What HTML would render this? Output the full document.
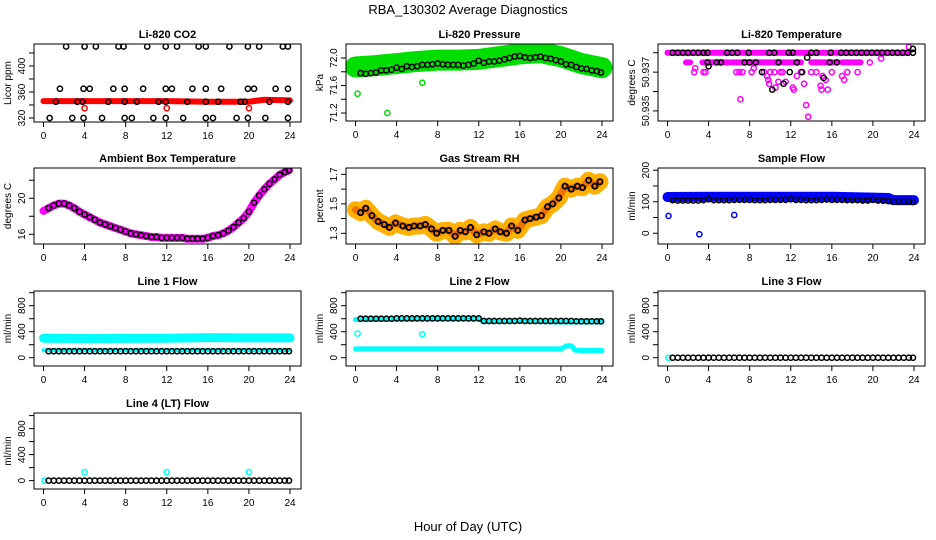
<!DOCTYPE html>
<html><head><meta charset="utf-8">
<style>
html,body{margin:0;padding:0;background:#fff;}
svg{display:block;font-family:"Liberation Sans",Arial,sans-serif;}
</style></head>
<body>
<svg id="chart" width="936" height="540" viewBox="0 0 936 540" xmlns="http://www.w3.org/2000/svg">
<text x="468" y="14" text-anchor="middle" font-size="13">RBA_130302  Average Diagnostics</text>
<text x="468" y="531" text-anchor="middle" font-size="13">Hour of Day (UTC)</text>
</svg>
<script>
// ---------- data ----------
const xTicks = [0,4,8,12,16,20,24];
const halfHours = [0.5,1,1.5,2,2.5,3,3.5,4,4.5,5,5.5,6,6.5,7,7.5,8,8.5,9,9.5,10,10.5,11,11.5,12,12.5,13,13.5,14,14.5,15,15.5,16,16.5,17,17.5,18,18.5,19,19.5,20,20.5,21,21.5,22,22.5,23,23.5,23.9];

// CO2
const co2Levels = [430,365,345,320];
const co2LevelHours = [
  [2.2,4,5.1,7.3,7.8,10.1,11.9,13,15.1,15.8,18.1,19.9,21,23.3,23.8],
  [1.6,3.9,4.5,6.8,7.9,9.7,11.9,12.5,14.5,15.8,17.3,19.9,20.5,22.6,23.8],
  [1.2,3.3,3.8,6.3,7.9,9.1,11.2,11.9,14,15.8,17,19.2,19.6,22,23.8],
  [0.6,2.8,3.9,5.7,7.9,8.6,10.7,11.9,13.6,15.8,16.5,18.8,19.9,21.6,23.8]];
const co2RedHours = [0,4,8,12,16,20,21.5,24];
const co2RedVals = [346,346,346,346,345,345,348,347];
const co2RedOutH = [4,12,20];
const co2RedOutV = [335,335,335];

// Pressure
const presBlack = [71.78,71.77,71.78,71.79,71.82,71.82,71.83,71.86,71.84,71.88,71.87,71.88,71.9,71.9,71.91,71.92,71.91,71.9,71.9,71.9,71.89,71.9,71.92,71.96,71.93,71.95,71.95,71.96,71.98,72.0,72.02,72.03,72.01,72.0,72.01,72.02,72.0,71.99,71.97,71.95,71.91,71.9,71.87,71.85,71.84,71.82,71.81,71.79];
const presBandHours = [0,2,4,6,8,10,12,14,16,18,20,22,24];
const presBandVals = [71.87,71.89,71.92,71.95,71.97,71.97,71.98,72.02,72.06,72.08,72.02,71.92,71.86];
const presOutH = [0.2,3.1,6.5];
const presOutV = [71.48,71.2,71.64];

// Temperature
const tempMagRowStart = [1.8,3.4,6.3,14,17];
const tempMagRowEnd = [2.2,6,13,16.5,18.8];
const tempMagH = [2.7,2.6,3.5,3.7,6.7,7,7.3,7.1,8.2,8.4,9.4,9.7,9.8,10,9.9,10.4,10.8,11,10.5,11.2,11.5,12.2,12.3,12.6,13,13.3,13.5,13.7,14,14.5,14.9,15,15.1,15.4,15.6,16,17,17.2,17.5,18.5,19.7,20.8,23.5];
const tempMagV = [50.9372,50.937,50.937,50.937,50.937,50.937,50.937,50.9356,50.937,50.9372,50.937,50.9368,50.9366,50.937,50.9364,50.937,50.9365,50.937,50.9362,50.937,50.9365,50.9362,50.9361,50.9368,50.937,50.9364,50.9353,50.9347,50.937,50.937,50.9363,50.9361,50.9368,50.9366,50.9361,50.937,50.9368,50.9366,50.937,50.937,50.9375,50.9377,50.9383];
const tempBlkH = [0.5,1,1.5,2,2.5,3,3.5,3.9,5.8,6.3,6.8,7.9,9.9,10.4,11.8,12.2,14,14.5,15.9,16.9,17.4,17.9,18.4,18.9,19.4,19.9,20.4,20.9,21.4,21.9,22.4,22.9,23.4,23.9,3.9,4.8,5.2,7.5,8,8.6,10.8,12.6,15.8,16.5,4,9.2,11.9,13.1,13.6,15.2,11.3,10.2,23.9];
const tempBlkV = [50.938,50.938,50.938,50.938,50.938,50.938,50.938,50.938,50.938,50.938,50.938,50.938,50.938,50.938,50.938,50.938,50.938,50.938,50.938,50.938,50.938,50.938,50.938,50.938,50.938,50.938,50.938,50.938,50.938,50.938,50.938,50.938,50.938,50.938,50.9375,50.9375,50.9375,50.9375,50.9375,50.9375,50.9375,50.9375,50.9375,50.9375,50.9373,50.937,50.937,50.937,50.93775,50.9367,50.9364,50.9361,50.9382];

// Ambient box temperature
const ambVals = [18.9,19.2,19.4,19.4,19.2,18.9,18.5,18.2,17.9,17.6,17.3,17.1,16.9,16.7,16.5,16.3,16.1,16.0,15.9,15.8,15.7,15.7,15.6,15.6,15.6,15.6,15.6,15.5,15.5,15.5,15.5,15.6,15.8,15.9,16.1,16.4,16.8,17.3,17.8,18.5,19.5,20.3,21.0,21.6,22.1,22.6,22.9,23.1];

// Gas stream RH
const rhHours = [0.5,1,1.6,2.2,2.8,3.3,3.9,4.6,5.2,5.7,6.3,6.8,7.4,7.9,8.5,9.1,9.7,10.2,10.7,11.2,11.8,12.5,13,13.6,14.1,14.7,15.2,15.8,16.5,17,17.6,18.1,18.7,19.2,19.8,20.4,21,21.6,22.1,22.7,23.3,23.8];
const rhVals = [1.44,1.47,1.42,1.38,1.36,1.34,1.37,1.35,1.34,1.35,1.35,1.36,1.33,1.30,1.32,1.32,1.28,1.32,1.31,1.34,1.29,1.31,1.30,1.33,1.31,1.30,1.35,1.32,1.39,1.40,1.41,1.42,1.48,1.50,1.54,1.62,1.60,1.62,1.61,1.66,1.62,1.65];

// Sample flow
const sfBlack = [105,104,104,104,104,104,105,108,105,105,105,105,106,106,106,106,105,105,105,106,106,106,106,108,106,106,105,105,105,106,107,106,106,106,105,105,105,104,104,106,104,103,102,100,100,100,100,99];
const sfBandHours = [0,4,8,12,16,20,21.5,22,24];
const sfBandVals = [115,116,116,116,116,113,112,105,105];
const sfOutH = [0.1,3.1,6.5];
const sfOutV = [55,-3,58];

// Line flows
const l1Black = [100,100,100,100,100,100,100,100,100,100,100,100,100,100,100,100,100,100,100,100,100,100,100,100,100,100,100,100,100,100,100,100,100,100,100,100,100,100,100,100,100,100,100,100,100,100,100,100];
const l1UpperHours = [0,4,8,12,16,20,24];
const l1UpperVals = [300,295,298,300,308,305,305];
const l1LowerHours = [0,24];
const l1LowerVals = [115,115];
const l2Black = [600,600,600,600,600,600,600,605,605,605,605,605,605,605,605,605,605,605,605,605,605,605,605,605,565,565,565,565,565,565,565,570,565,565,565,565,565,565,565,565,565,565,560,560,560,560,560,560];
const l2UpperHours = [0,4,8,12,12.5,16,20,24];
const l2UpperVals = [585,590,595,595,555,560,550,550];
const l2LowerHours = [0,4,8,12,16,20,20.5,21,21.4,22,24];
const l2LowerVals = [135,135,135,135,135,135,180,185,115,110,110];
const l2OutH = [0.2,6.5];
const l2OutV = [370,360];
const l3Black = [0,0,0,0,0,0,0,0,0,0,0,0,0,0,0,0,0,0,0,0,0,0,0,0,0,0,0,0,0,0,0,0,0,0,0,0,0,0,0,0,0,0,0,0,0,0,0,0];
const l3CyanH = [0.1];
const l3CyanV = [0];
const l4Black = [0,0,0,0,0,0,0,0,0,0,0,0,0,0,0,0,0,0,0,0,0,0,0,0,0,0,0,0,0,0,0,0,0,0,0,0,0,0,0,0,0,0,0,0,0,0,0,0];
const l4CyanH = [0.1,4,12,20];
const l4CyanV = [0,130,130,130];

// ---------- drawing ----------
const NS = "http://www.w3.org/2000/svg";
const svg = document.getElementById('chart');
function el(tag, parent){ const e=document.createElementNS(NS,tag); parent.appendChild(e); return e; }

function panel(o){
  const g = el('g', svg);
  
  
  const bx=o.bx, by=o.by, bw=267, bh=o.bh;
  const sx = h => bx + 9.5 + h*(bw-20.5)/24;
  const sy = v => by + bh - (v-o.lo)/(o.hi-o.lo)*bh;
  const clip = el('clipPath', g);
  clip.setAttribute('id', 'clip-'+o.name);
  const cr = el('rect', clip);
  cr.setAttribute('x', bx); cr.setAttribute('y', by); cr.setAttribute('width', bw); cr.setAttribute('height', bh);
  const plot = el('g', g);
  plot.setAttribute('clip-path', 'url(#clip-'+o.name+')');
  
  
  o.draw({plot, sx, sy});
  const r = el('rect', g);
  
  
  r.setAttribute('x', bx); r.setAttribute('y', by); r.setAttribute('width', bw); r.setAttribute('height', bh);
  r.setAttribute('fill','none'); r.setAttribute('stroke','#000'); r.setAttribute('stroke-width','1');
  const t = el('text', g);
  
  
  t.setAttribute('x', bx+bw/2); t.setAttribute('y', by-6); t.setAttribute('text-anchor','middle');
  t.setAttribute('font-size','11'); t.setAttribute('font-weight','bold');
  t.textContent = o.title;
  xTicks.forEach(h=>{
    const l = el('line', g);
    
    
    l.setAttribute('x1', sx(h)); l.setAttribute('x2', sx(h)); l.setAttribute('y1', by+bh); l.setAttribute('y2', by+bh+5);
    l.setAttribute('stroke','#000');
    if(o.xlabels){
      const tx = el('text', g);
      
      
      tx.setAttribute('x', sx(h)); tx.setAttribute('y', by+bh+17); tx.setAttribute('text-anchor','middle'); tx.setAttribute('font-size','10');
      tx.textContent = h;
    }
  });
  o.yticks.forEach((v,i)=>{
    const y = sy(v);
    const l = el('line', g);
    
    
    l.setAttribute('x1', bx-5); l.setAttribute('x2', bx); l.setAttribute('y1', y); l.setAttribute('y2', y);
    l.setAttribute('stroke','#000');
    const lab = o.ylabels[i];
    if(lab!==''){
      const tx = el('text', g);
      
      
      tx.setAttribute('transform', 'translate('+(bx-9)+','+y+') rotate(-90)');
      tx.setAttribute('text-anchor','middle'); tx.setAttribute('font-size','10');
      tx.textContent = lab;
    }
  });
  const yt = el('text', g);
  
  
  yt.setAttribute('transform', 'translate('+(bx-23)+','+(by+bh/2)+') rotate(-90)');
  yt.setAttribute('text-anchor','middle'); yt.setAttribute('font-size','10');
  yt.textContent = o.ytitle;
}

function pts(ctx, hs, vs, color, name, sw){
  hs.forEach((h,i)=>{
    const c = el('circle', ctx.plot);
    
    
    c.setAttribute('cx', ctx.sx(h)); c.setAttribute('cy', ctx.sy(vs[i])); c.setAttribute('r', 2.6);
    c.setAttribute('fill','none'); c.setAttribute('stroke', color); c.setAttribute('stroke-width', sw||1.5);
  });
}
function band(ctx, hs, vs, color, width, name){
  const p = el('polyline', ctx.plot);
  
  
  p.setAttribute('points', hs.map((h,i)=>ctx.sx(h)+','+ctx.sy(vs[i])).join(' '));
  p.setAttribute('fill','none'); p.setAttribute('stroke', color); p.setAttribute('stroke-width', width);
  p.setAttribute('stroke-linecap','round'); p.setAttribute('stroke-linejoin','round');
}

const C1=34, C2=346, C3=658;
const R1=44, R2=168, R3=291, R4=413;

panel({name:'co2', title:'Li-820 CO2', bx:C1, by:R1, bh:78, lo:313.8, hi:433.8, ytitle:'Licor ppm', xlabels:true,
  yticks:[320,340,360,380,400,420], ylabels:['320','','360','','400',''],
  draw:ctx=>{
    band(ctx, co2RedHours, co2RedVals, '#ff0000', 6, 'co2-red-band');
    pts(ctx, co2RedOutH, co2RedOutV, '#ff0000', 'co2-red-point');
    co2Levels.forEach((lv,k)=>{ pts(ctx, co2LevelHours[k], co2LevelHours[k].map(()=>lv), '#000', 'co2-black-point'); });
  }});

panel({name:'pressure', title:'Li-820 Pressure', bx:C2, by:R1, bh:77, lo:71.084, hi:72.204, ytitle:'kPa', xlabels:true,
  yticks:[71.2,71.4,71.6,71.8,72.0], ylabels:['71.2','','71.6','','72.0'],
  draw:ctx=>{
    band(ctx, presBandHours, presBandVals, '#00dd00', 21, 'pressure-green-band');
    pts(ctx, presOutH, presOutV, '#00dd00', 'pressure-green-point');
    pts(ctx, halfHours, presBlack, '#000', 'pressure-black-point');
  }});

panel({name:'li820-temp', title:'Li-820 Temperature', bx:C3, by:R1, bh:77, lo:50.93448, hi:50.93845, ytitle:'degrees C', xlabels:true,
  yticks:[50.935,50.936,50.937,50.938], ylabels:['50.935','','50.937',''],
  draw:ctx=>{
    band(ctx, [0,23.5], [50.938,50.938], '#ff00ff', 6, 'temp-magenta-row');
    tempMagRowStart.forEach((s,i)=>{ band(ctx, [s, tempMagRowEnd[i]], [50.9375,50.9375], '#ff00ff', 6, 'temp-magenta-row2'); });
    pts(ctx, tempMagH, tempMagV, '#ff00ff', 'temp-magenta-point');
    pts(ctx, tempBlkH, tempBlkV, '#000', 'temp-black-point');
  }});

panel({name:'ambient', title:'Ambient Box Temperature', bx:C1, by:R2, bh:76, lo:14.92, hi:23.36, ytitle:'degrees C', xlabels:true,
  yticks:[16,18,20,22], ylabels:['16','','20',''],
  draw:ctx=>{
    band(ctx, [0].concat(halfHours), [18.6].concat(ambVals), '#ff00ff', 8, 'ambient-magenta-band');
    pts(ctx, halfHours, ambVals, '#000', 'ambient-black-point');
  }});

panel({name:'rh', title:'Gas Stream RH', bx:C2, by:R2, bh:76, lo:1.2274, hi:1.7434, ytitle:'percent', xlabels:true,
  yticks:[1.3,1.4,1.5,1.6,1.7], ylabels:['1.3','','1.5','','1.7'],
  draw:ctx=>{
    band(ctx, [0].concat(rhHours), [1.46].concat(rhVals), '#ffb000', 17, 'rh-orange-band');
    band(ctx, [0].concat(rhHours), [1.46].concat(rhVals), '#f07000', 7, 'rh-red-band');
    pts(ctx, rhHours, rhVals, '#000', 'rh-black-point', 1.8);
  }});

panel({name:'sample-flow', title:'Sample Flow', bx:C3, by:R2, bh:76, lo:-34, hi:207, ytitle:'ml/min', xlabels:true,
  yticks:[0,50,100,150,200], ylabels:['0','','100','','200'],
  draw:ctx=>{
    band(ctx, sfBandHours, sfBandVals, '#0000ff', 10, 'sample-blue-band');
    pts(ctx, sfOutH, sfOutV, '#0000ff', 'sample-blue-point');
    pts(ctx, halfHours, sfBlack, '#000', 'sample-black-point');
  }});

const flowTicks=[0,200,400,600,800,1000], flowLabels=['0','','400','','800',''];
panel({name:'line1', title:'Line 1 Flow', bx:C1, by:R3, bh:75, lo:-127.7, hi:1026, ytitle:'ml/min', xlabels:true,
  yticks:flowTicks, ylabels:flowLabels,
  draw:ctx=>{
    band(ctx, l1UpperHours, l1UpperVals, '#00ffff', 9, 'line1-cyan-upper');
    band(ctx, l1LowerHours, l1LowerVals, '#00ffff', 4, 'line1-cyan-lower');
    pts(ctx, halfHours, l1Black, '#000', 'line1-black-point');
  }});
panel({name:'line2', title:'Line 2 Flow', bx:C2, by:R3, bh:75, lo:-127.7, hi:1026, ytitle:'ml/min', xlabels:true,
  yticks:flowTicks, ylabels:flowLabels,
  draw:ctx=>{
    band(ctx, l2UpperHours, l2UpperVals, '#00ffff', 5, 'line2-cyan-upper');
    band(ctx, l2LowerHours, l2LowerVals, '#00ffff', 5, 'line2-cyan-lower');
    pts(ctx, l2OutH, l2OutV, '#00ffff', 'line2-cyan-point');
    pts(ctx, halfHours, l2Black, '#000', 'line2-black-point');
  }});
panel({name:'line3', title:'Line 3 Flow', bx:C3, by:R3, bh:75, lo:-127.7, hi:1026, ytitle:'ml/min', xlabels:true,
  yticks:flowTicks, ylabels:flowLabels,
  draw:ctx=>{
    pts(ctx, l3CyanH, l3CyanV, '#00ffff', 'line3-cyan-point');
    pts(ctx, halfHours, l3Black, '#000', 'line3-black-point');
  }});
panel({name:'line4', title:'Line 4 (LT) Flow', bx:C1, by:R4, bh:76, lo:-129.2, hi:1040, ytitle:'ml/min', xlabels:true,
  yticks:flowTicks, ylabels:flowLabels,
  draw:ctx=>{
    pts(ctx, l4CyanH, l4CyanV, '#00ffff', 'line4-cyan-point');
    pts(ctx, halfHours, l4Black, '#000', 'line4-black-point');
  }});
</script>
</body></html>
